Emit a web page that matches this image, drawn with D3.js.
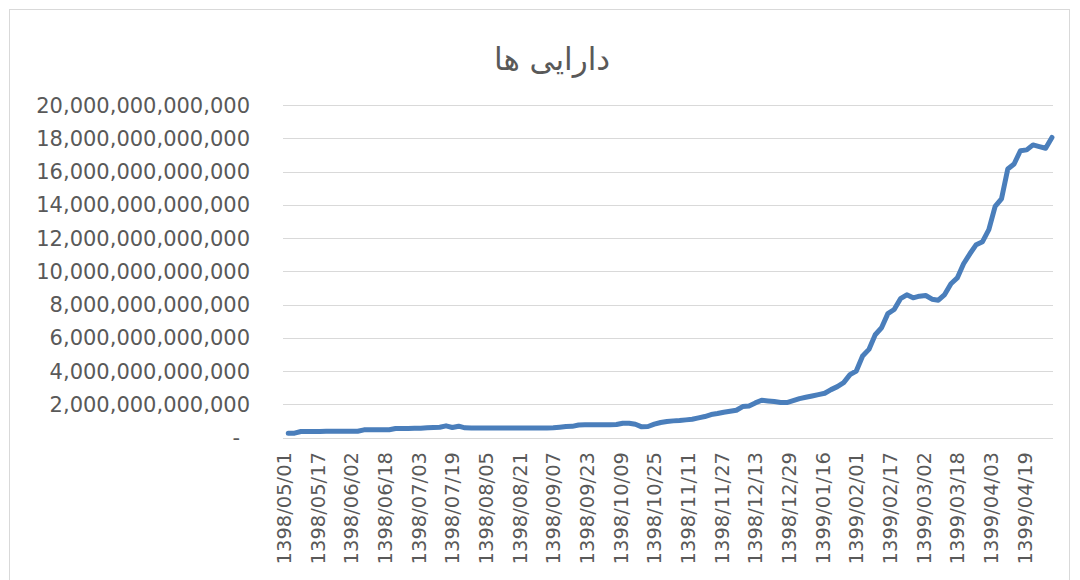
<!DOCTYPE html>
<html>
<head>
<meta charset="utf-8">
<script src="https://cdn.jsdelivr.net/npm/d3@7"></script>
<style>
  body { margin: 0; background: #fff; }
  text { font-family: "DejaVu Sans", sans-serif; fill: #595959; }
</style>
</head>
<body>
<svg id="chart"></svg>
<script>
const chartTitle = "دارایی ها";

// one category per calendar day, starting 1398/05/01
const dayCount = 366;
const labelEvery = 16;
const tickLabels = [
    "1398/05/01", "1398/05/17", "1398/06/02", "1398/06/18", "1398/07/03", "1398/07/19",
    "1398/08/05", "1398/08/21", "1398/09/07", "1398/09/23", "1398/10/09", "1398/10/25",
    "1398/11/11", "1398/11/27", "1398/12/13", "1398/12/29", "1399/01/16", "1399/02/01",
    "1399/02/17", "1399/03/02", "1399/03/18", "1399/04/03", "1399/04/19"
];

// total assets in trillions, read every 3rd day starting at day 2
const sampleStart = 2, sampleStep = 3;
const assets = [
    0.26, 0.26, 0.36, 0.36, 0.36, 0.36, 0.37, 0.37, 0.37, 0.37, 0.38, 0.38,
    0.46, 0.46, 0.46, 0.47, 0.47, 0.54, 0.54, 0.54, 0.55, 0.55,
    0.58, 0.60, 0.62, 0.70, 0.60, 0.68, 0.58,
    0.57, 0.57, 0.57, 0.57, 0.57, 0.57, 0.57, 0.57, 0.57, 0.57, 0.57, 0.57, 0.57, 0.58,
    0.62, 0.66, 0.67, 0.75, 0.76, 0.76, 0.76, 0.76, 0.77, 0.78,
    0.86, 0.86, 0.80, 0.64, 0.66, 0.80, 0.90, 0.96, 1.00, 1.02, 1.06, 1.10,
    1.18, 1.26, 1.38, 1.44, 1.52, 1.58, 1.64, 1.86, 1.90, 2.08, 2.24, 2.20, 2.16, 2.10, 2.10,
    2.22, 2.34, 2.42, 2.50, 2.58, 2.66, 2.88, 3.06, 3.30, 3.78, 4.00,
    4.90, 5.30, 6.18, 6.60, 7.45, 7.70, 8.35, 8.58, 8.40, 8.50, 8.54, 8.32, 8.26, 8.60,
    9.25, 9.60, 10.45, 11.05, 11.60, 11.78, 12.50, 13.90, 14.35, 16.15, 16.45, 17.25,
    17.30, 17.60, 17.50, 17.40, 18.05
];
const yTicks = [0, 2, 4, 6, 8, 10, 12, 14, 16, 18, 20];

const width = 1080, height = 580;
const plot = { left: 283, right: 1053, top: 105, bottom: 437.5 };

const svg = d3.select("#chart")
    .attr("width", width)
    .attr("height", height);

svg.append("rect")
    .attr("x", 9.5).attr("y", 9.5)
    .attr("width", 1060).attr("height", 620)
    .attr("fill", "#fff")
    .attr("stroke", "#d9d9d9");

const x = d3.scaleBand()
    .domain(d3.range(dayCount))
    .range([plot.left, plot.right]);

const y = d3.scaleLinear()
    .domain([0, 20e12])
    .range([plot.bottom, plot.top]);

const fmt = d3.format(",.0f");

// gridlines
svg.append("g")
    .selectAll("line")
    .data(yTicks)
    .enter()
    .append("line")
    .attr("x1", plot.left).attr("x2", plot.right)
    .attr("y1", d => Math.round(y(d * 1e12)) + 0.5)
    .attr("y2", d => Math.round(y(d * 1e12)) + 0.5)
    .attr("stroke", "#d9d9d9")
    .attr("stroke-width", 1);

// y labels
svg.append("g")
    .selectAll("text")
    .data(yTicks)
    .enter()
    .append("text")
    .attr("x", d => d === 0 ? 240 : 250)
    .attr("y", d => y(d * 1e12))
    .attr("dy", "0.36em")
    .attr("text-anchor", "end")
    .style("font-size", "21px")
    .text(d => d === 0 ? "-" : fmt(d * 1e12));

// x labels
svg.append("g")
    .selectAll("text")
    .data(tickLabels)
    .enter()
    .append("text")
    .attr("transform", (d, i) => {
        const cx = x(i * labelEvery) + x.bandwidth() / 2;
        return `translate(${cx},452) rotate(-90)`;
    })
    .attr("dy", "0.36em")
    .attr("text-anchor", "end")
    .style("font-size", "19.5px")
    .text(d => d);

// line
const points = assets.map((v, k) => ({ day: sampleStart + k * sampleStep, value: v * 1e12 }));

const line = d3.line()
    .x(d => x(d.day) + x.bandwidth() / 2)
    .y(d => y(d.value));

svg.append("path")
    .datum(points)
    .attr("d", line)
    .attr("fill", "none")
    .attr("stroke", "#4a7ebb")
    .attr("stroke-width", 5)
    .attr("stroke-linejoin", "round")
    .attr("stroke-linecap", "round");

// title
svg.append("text")
    .attr("x", 552)
    .attr("y", 70)
    .attr("text-anchor", "middle")
    .style("font-size", "31px")
    .text(chartTitle);
</script>
</body>
</html>
